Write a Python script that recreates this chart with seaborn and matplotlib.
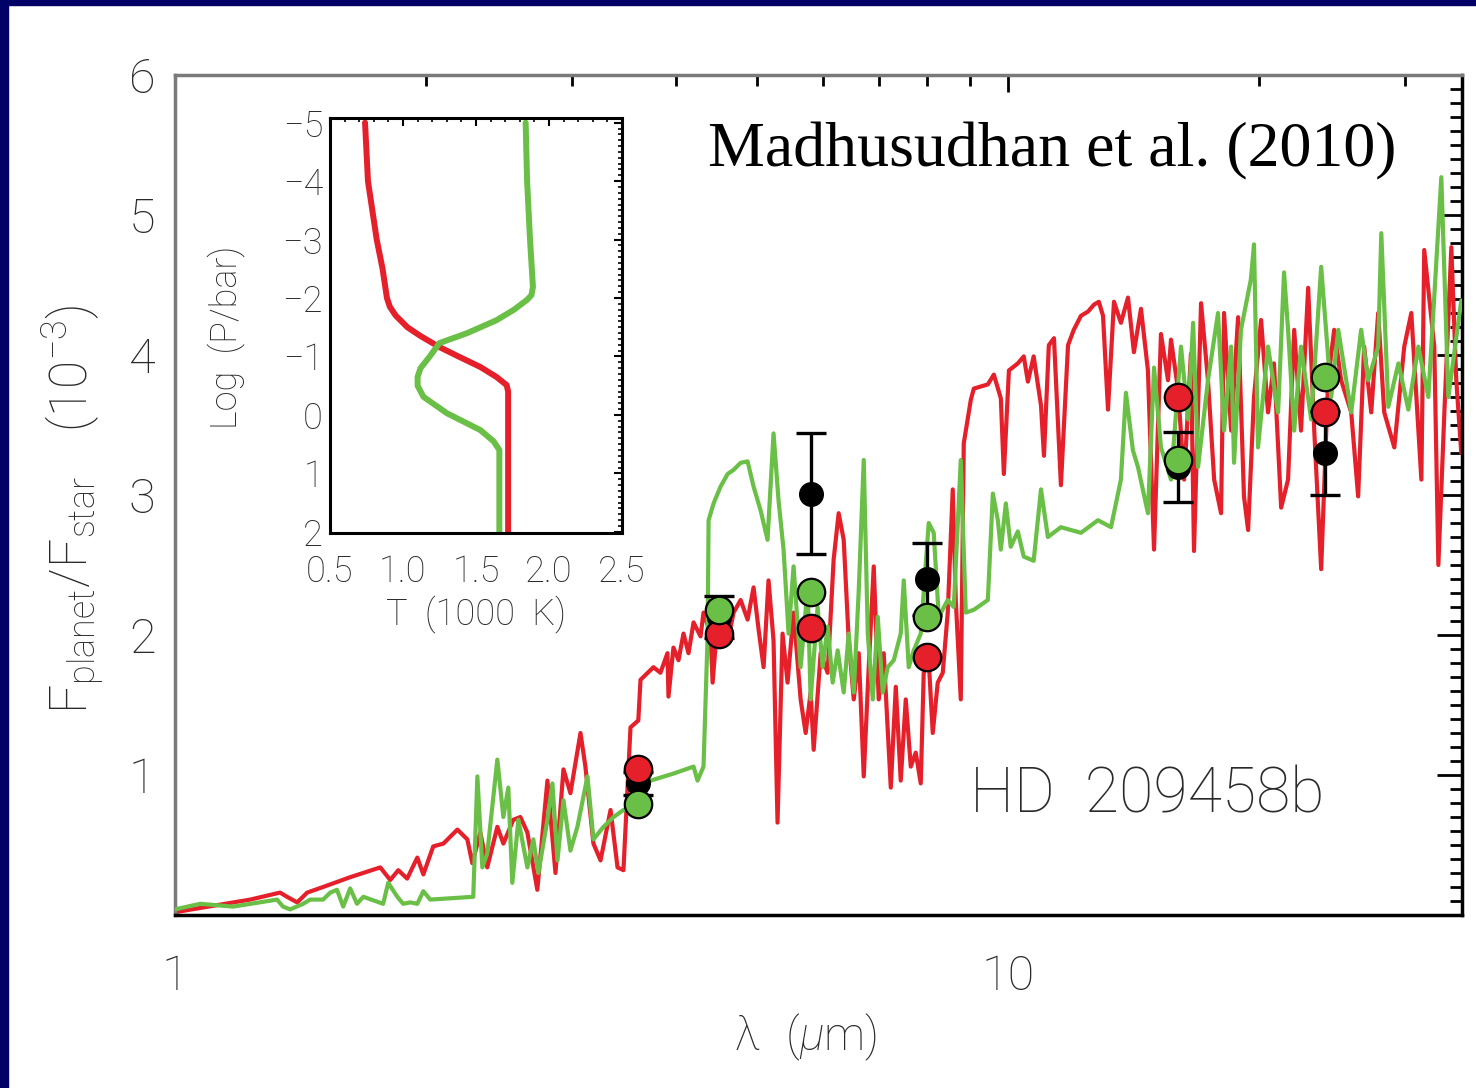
import numpy as np
import pandas as pd
import seaborn as sns
import matplotlib.pyplot as plt
from matplotlib.ticker import MultipleLocator, FixedLocator, NullFormatter
from matplotlib.patches import Rectangle

# ---- model emission spectra: wavelength (micron) and F_planet/F_star (1e-3)
wl_red = [1.000, 1.123, 1.231, 1.337, 1.363, 1.402, 1.441, 1.506, 1.623, 1.764,
          1.813, 1.854, 1.900, 1.954, 1.987, 2.042, 2.100, 2.183, 2.244, 2.275,
          2.326, 2.371, 2.438, 2.479, 2.548, 2.598, 2.649, 2.723, 2.800, 2.863,
          2.927, 2.984, 3.068, 3.110, 3.180, 3.243, 3.334, 3.399, 3.455, 3.523,
          3.600, 3.622, 3.754, 3.827, 3.902, 3.913, 3.967, 4.023, 4.079, 4.136,
          4.194, 4.276, 4.311, 4.396, 4.421, 4.483, 4.608, 4.685, 4.777, 4.870,
          4.951, 5.020, 5.090, 5.160, 5.232, 5.290, 5.364, 5.439, 5.530, 5.639,
          5.718, 5.797, 5.846, 5.960, 6.076, 6.178, 6.264, 6.352, 6.441, 6.531,
          6.622, 6.714, 6.807, 6.902, 6.998, 7.095, 7.235, 7.336, 7.437, 7.541,
          7.646, 7.752, 7.860, 7.925, 8.035, 8.125, 8.238, 8.353, 8.469, 8.587,
          8.659, 8.780, 8.853, 9.027, 9.102, 9.462, 9.620, 9.808, 9.890, 10.03,
          10.28, 10.45, 10.57, 10.74, 10.96, 11.05, 11.20, 11.36, 11.58, 11.81,
          12.00, 12.24, 12.48, 12.69, 12.86, 13.01, 13.19, 13.41, 13.67, 13.94,
          14.17, 14.45, 14.73, 14.98, 15.27, 15.57, 15.70, 16.01, 16.28, 16.59,
          16.73, 17.06, 17.39, 17.69, 18.03, 18.18, 18.54, 18.90, 19.21, 19.43,
          19.75, 20.14, 20.53, 20.87, 21.29, 21.70, 22.07, 22.49, 22.94, 23.33,
          23.78, 24.24, 24.65, 25.13, 25.84, 26.34, 26.78, 27.31, 27.84, 28.31,
          29.11, 29.92, 30.51, 31.11, 31.37, 31.62, 32.51, 32.88, 33.43, 34.08,
          34.55, 35.03]
fl_red = [0.02, 0.07, 0.11, 0.16, 0.13, 0.09, 0.16, 0.20, 0.27, 0.34,
          0.25, 0.32, 0.26, 0.41, 0.29, 0.49, 0.51, 0.61, 0.54, 0.37,
          0.59, 0.34, 0.63, 0.51, 0.68, 0.70, 0.59, 0.18, 0.96, 0.30,
          1.04, 0.87, 1.30, 1.06, 0.51, 0.39, 0.75, 0.34, 0.32, 1.34,
          1.39, 1.68, 1.77, 1.73, 1.87, 1.56, 1.91, 1.82, 2.01, 1.87,
          2.09, 1.99, 2.16, 2.01, 1.66, 2.11, 1.95, 2.16, 2.25, 2.11,
          2.34, 2.04, 1.77, 2.39, 1.96, 0.66, 2.01, 1.66, 2.16, 1.54,
          1.30, 1.59, 1.18, 1.87, 1.73, 2.54, 2.87, 2.68, 1.96, 1.54,
          1.87, 0.99, 1.77, 2.49, 1.54, 1.87, 0.91, 1.63, 0.96, 1.54,
          1.06, 1.16, 0.94, 1.73, 1.82, 1.30, 1.66, 1.73, 2.16, 3.04,
          2.25, 1.54, 3.37, 3.68, 3.76, 3.79, 3.86, 3.69, 3.15, 3.89,
          3.94, 3.99, 3.81, 3.99, 3.64, 3.28, 4.07, 4.12, 3.07, 4.07,
          4.18, 4.28, 4.31, 4.36, 4.38, 4.28, 3.61, 4.38, 4.23, 4.41,
          4.02, 4.33, 3.89, 2.61, 4.15, 3.82, 4.11, 3.75, 3.11, 4.01,
          2.60, 4.37, 3.82, 3.11, 2.87, 4.30, 3.46, 4.27, 2.99, 2.75,
          3.70, 4.25, 3.59, 3.94, 2.91, 3.11, 4.18, 3.46, 4.48, 3.46,
          2.47, 3.82, 4.18, 3.82, 3.59, 2.99, 4.06, 3.59, 4.30, 3.59,
          3.34, 4.06, 4.30, 3.46, 3.11, 4.75, 4.06, 2.50, 3.59, 4.77,
          3.82, 3.30]

wl_green = [1.000, 1.072, 1.174, 1.326, 1.348, 1.375, 1.425, 1.453, 1.506, 1.536,
            1.565, 1.592, 1.623, 1.654, 1.683, 1.778, 1.803, 1.849, 1.879, 1.916,
            1.954, 1.987, 2.025, 2.281, 2.307, 2.339, 2.371, 2.438, 2.479, 2.513,
            2.541, 2.584, 2.649, 2.693, 2.731, 2.800, 2.839, 2.879, 2.927, 2.984,
            3.042, 3.128, 3.180, 3.270, 3.362, 3.455, 3.523, 3.724, 3.967, 4.194,
            4.240, 4.311, 4.360, 4.372, 4.433, 4.519, 4.608, 4.685, 4.777, 4.870,
            4.951, 5.048, 5.146, 5.232, 5.305, 5.379, 5.454, 5.530, 5.639, 5.749,
            5.797, 5.910, 5.993, 6.076, 6.161, 6.247, 6.352, 6.441, 6.531, 6.622,
            6.714, 6.789, 6.883, 6.979, 7.076, 7.174, 7.295, 7.437, 7.499, 7.603,
            7.709, 7.860, 8.035, 8.147, 8.261, 8.469, 8.611, 8.780, 8.902, 9.102,
            9.462, 9.594, 9.727, 9.808, 9.945, 10.08, 10.28, 10.45, 10.74, 10.96,
            11.17, 11.58, 12.24, 12.83, 13.30, 13.67, 13.86, 14.13, 14.33, 14.73,
            14.98, 15.27, 15.70, 16.14, 16.46, 16.69, 16.92, 17.39, 17.88, 18.18,
            18.54, 18.69, 19.05, 19.58, 19.75, 19.97, 20.53, 21.11, 21.46, 21.70,
            22.07, 22.49, 23.13, 23.78, 24.45, 24.93, 25.84, 26.56, 27.08, 27.84,
            28.08, 28.63, 29.44, 30.26, 31.11, 31.98, 33.15, 33.80, 35.03]
fl_green = [0.04, 0.08, 0.06, 0.11, 0.06, 0.04, 0.08, 0.11, 0.11, 0.16,
            0.18, 0.06, 0.19, 0.08, 0.13, 0.08, 0.23, 0.13, 0.08, 0.09,
            0.08, 0.17, 0.11, 0.13, 0.99, 0.34, 0.44, 1.11, 0.70, 0.91,
            0.23, 0.68, 0.34, 0.54, 0.30, 0.68, 0.94, 0.39, 0.82, 0.46,
            0.63, 0.99, 0.54, 0.63, 0.70, 0.75, 0.77, 0.96, 1.01, 1.06,
            0.96, 1.06, 1.99, 2.82, 2.94, 3.06, 3.15, 3.18, 3.23, 3.24,
            3.06, 2.89, 2.68, 3.44, 2.96, 2.61, 2.01, 2.49, 1.77, 2.34,
            1.54, 2.20, 1.77, 2.06, 1.66, 1.89, 1.59, 2.01, 1.59, 2.32,
            3.25, 2.01, 1.54, 2.13, 1.59, 1.77, 1.82, 2.01, 2.39, 1.77,
            1.89, 2.01, 2.80, 2.73, 2.13, 2.25, 2.20, 3.25, 2.16, 2.18,
            2.25, 3.01, 2.82, 2.61, 2.94, 2.63, 2.74, 2.56, 2.53, 3.04,
            2.70, 2.77, 2.73, 2.82, 2.77, 3.11, 3.73, 3.32, 3.20, 2.87,
            3.91, 3.34, 3.11, 4.06, 3.54, 4.23, 3.20, 3.82, 4.30, 3.46,
            4.06, 3.23, 4.18, 4.54, 4.79, 3.34, 4.06, 3.59, 4.59, 4.18,
            3.46, 4.06, 3.54, 4.63, 3.70, 4.18, 3.59, 4.18, 3.82, 4.06,
            4.87, 3.63, 3.94, 3.61, 4.06, 3.70, 5.27, 3.70, 4.39]

# ---- Spitzer photometry and band-averaged model fluxes
band_wl = [3.6, 4.5, 5.8, 8.0, 16.0, 24.0]
obs_flux = [0.94, 2.13, 3.01, 2.40, 3.20, 3.30]
obs_err = [0.08, 0.15, 0.43, 0.26, 0.25, 0.30]
band_red = [1.04, 2.01, 2.05, 1.84, 3.70, 3.59]
band_green = [0.79, 2.18, 2.31, 2.13, 3.25, 3.84]

# ---- pressure-temperature profiles (log P in bar, T in 1000 K)
logp_red = [-5.0, -4.5, -4.0, -3.5, -3.0, -2.5, -2.0, -1.85, -1.7, -1.5,
            -1.35, -1.16, -1.0, -0.82, -0.65, -0.51, -0.4, 0.0, 1.0, 2.05]
temp_red = [0.74, 0.75, 0.76, 0.79, 0.82, 0.86, 0.89, 0.91, 0.95, 1.03,
            1.12, 1.25, 1.38, 1.53, 1.64, 1.71, 1.72, 1.72, 1.72, 1.72]
logp_green = [-5.0, -4.0, -3.0, -2.19, -2.05, -1.97, -1.8, -1.62, -1.40, -1.23,
              -0.99, -0.8, -0.65, -0.5, -0.31, -0.03, 0.26, 0.45, 0.60, 1.0, 2.05]
temp_green = [1.84, 1.85, 1.87, 1.89, 1.88, 1.85, 1.76, 1.64, 1.44, 1.25,
              1.18, 1.12, 1.10, 1.10, 1.14, 1.30, 1.53, 1.62, 1.66, 1.66, 1.66]

RED = '#e5202a'
GREEN = '#6abf46'
NAVY = '#000066'
TXT = '#2a2a2a'

sns.set_theme(style='white')
plt.rcParams['font.family'] = ['Roboto', 'DejaVu Sans']
plt.rcParams['font.weight'] = 'light'
plt.rcParams['axes.labelweight'] = 'light'
plt.rcParams['mathtext.fontset'] = 'custom'
plt.rcParams['mathtext.rm'] = 'Roboto:light'
plt.rcParams['mathtext.it'] = 'Roboto:italic:light'
plt.rcParams['axes.unicode_minus'] = True

fig = plt.figure(figsize=(14.76, 10.88), dpi=100)
fig.patch.set_facecolor('white')

# slide frame
fig.add_artist(Rectangle((0, 1 - 5 / 1088), 1, 5 / 1088, transform=fig.transFigure,
                         color=NAVY, zorder=10))
fig.add_artist(Rectangle((0, 0), 8 / 1476, 1, transform=fig.transFigure,
                         color=NAVY, zorder=10))

# ---------------- main spectrum panel ----------------
ax = fig.add_axes([175 / 1476, 173 / 1088, 1287 / 1476, 840 / 1088])
ax.set_xscale('log')

sns.lineplot(x=wl_red, y=fl_red, sort=False, estimator=None, color=RED,
             lw=3.0, ax=ax, zorder=2)
sns.lineplot(x=wl_green, y=fl_green, sort=False, estimator=None, color=GREEN,
             lw=3.0, ax=ax, zorder=3)

ax.errorbar(band_wl, obs_flux, yerr=obs_err, fmt='o', color='black', ms=17,
            capsize=11, capthick=2.4, elinewidth=2.4, zorder=4)
sns.scatterplot(x=band_wl, y=band_red, s=390, color=RED, edgecolor='black',
                linewidth=1.6, ax=ax, zorder=5)
sns.scatterplot(x=band_wl, y=band_green, s=390, color=GREEN, edgecolor='black',
                linewidth=1.6, ax=ax, zorder=6)

ax.set_xlim(1.0, 35.1)
ax.set_ylim(0.0, 6.0)

ax.xaxis.set_major_locator(FixedLocator([1, 10]))
ax.xaxis.set_minor_locator(FixedLocator([2, 3, 4, 5, 6, 7, 8, 9, 20, 30]))
ax.xaxis.set_minor_formatter(NullFormatter())
ax.set_xticklabels(['1', '10'])
ax.yaxis.set_major_locator(FixedLocator([1, 2, 3, 4, 5, 6]))
ax.yaxis.set_minor_locator(MultipleLocator(0.1))
ax.set_yticklabels(['1', '2', '3', '4', '5', '6'])

ax.tick_params(which='both', direction='in', top=True, right=True,
               colors='black', labelcolor=TXT, labelsize=35)
ax.tick_params(axis='y', which='major', length=18, width=2, pad=14)
ax.tick_params(axis='y', which='minor', length=9, width=2)
ax.tick_params(axis='x', which='major', length=12, width=2, pad=28)
ax.tick_params(axis='x', which='minor', length=8, width=2)

for side in ['left', 'top']:
    ax.spines[side].set_color('#7a7a7a')
for side in ['bottom', 'right']:
    ax.spines[side].set_color('black')
for sp in ax.spines.values():
    sp.set_linewidth(2.5)

ax.set_xlabel(r'$\mathrm{\lambda\ \ (}\mu\mathrm{m)}$', fontsize=33, color=TXT)
ax.xaxis.set_label_coords(0.49, -0.115)
ax.set_ylabel(r'$\mathrm{F_{planet}/F_{star}\ \ \ (10^{-3})}$', fontsize=37, color=TXT)
ax.yaxis.set_label_coords(-0.054, 0.483)

ax.text(0.414, 0.909, 'Madhusudhan et al. (2010)', transform=ax.transAxes,
        family='Liberation Serif', fontweight='normal', fontsize=46,
        color='black', ha='left', va='center')
ax.text(0.618, 0.143, 'HD  209458b', transform=ax.transAxes, fontsize=45,
        color=TXT, ha='left', va='center')

# ---------------- inset: P-T profiles ----------------
ins = fig.add_axes([330 / 1476, 555 / 1088, 292 / 1476, 415 / 1088])
ins.set_facecolor('white')
sns.lineplot(x=temp_red, y=logp_red, sort=False, estimator=None, color=RED,
             lw=4.3, ax=ins)
sns.lineplot(x=temp_green, y=logp_green, sort=False, estimator=None, color=GREEN,
             lw=4.3, ax=ins)
ins.set_xlim(0.5, 2.5)
ins.set_ylim(2.02, -5.08)
ins.xaxis.set_major_locator(FixedLocator([0.5, 1.0, 1.5, 2.0, 2.5]))
ins.xaxis.set_minor_locator(MultipleLocator(0.1))
ins.set_xticklabels(['0.5', '1.0', '1.5', '2.0', '2.5'])
ins.yaxis.set_major_locator(FixedLocator([-5, -4, -3, -2, -1, 0, 1, 2]))
ins.yaxis.set_minor_locator(MultipleLocator(0.1))
ins.set_yticklabels(['\u22125', '\u22124', '\u22123', '\u22122', '\u22121', '0', '1', '2'])
ins.tick_params(which='both', direction='in', top=True, right=True,
                colors='black', labelcolor=TXT, labelsize=26)
ins.tick_params(which='major', length=6, width=1.5)
ins.tick_params(which='minor', length=3, width=1.2)
ins.tick_params(axis='x', which='major', pad=15)
ins.tick_params(axis='y', which='major', pad=5)
for sp in ins.spines.values():
    sp.set_color('black')
    sp.set_linewidth(2.2)
ins.set_xlabel('T  (1000  K)', fontsize=26, color=TXT)
ins.xaxis.set_label_coords(0.5, -0.15)
ins.set_ylabel('Log  (P/bar)', fontsize=26, color=TXT)
ins.yaxis.set_label_coords(-0.29, 0.472)

fig.savefig('out.png', dpi=100, facecolor='white')
